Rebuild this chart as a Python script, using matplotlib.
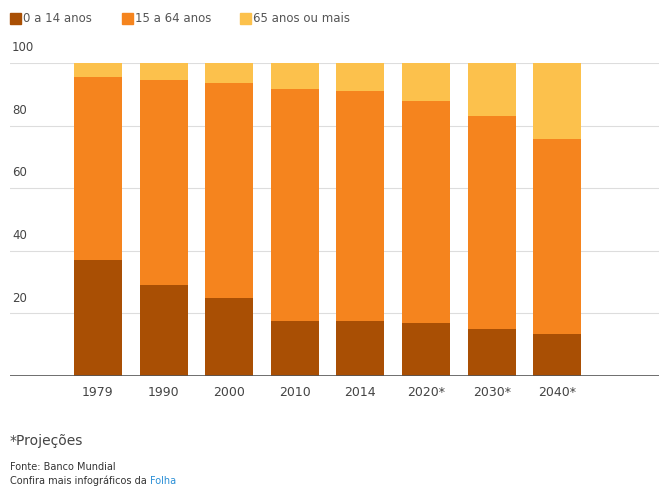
import numpy as np
import matplotlib.pyplot as plt

years = ["1979", "1990", "2000", "2010", "2014", "2020*", "2030*", "2040*"]
age_0_14 = [37, 29, 25, 17.5, 17.5, 17, 15, 13.5]
age_15_64 = [58.5, 65.6, 68.6, 74.2, 73.5, 70.9, 68, 62.2]
age_65 = [4.5, 5.4, 6.4, 8.3, 9, 12.1, 17, 24.3]

series_names = ["0 a 14 anos", "15 a 64 anos", "65 anos ou mais"]
colors = ["#a94f04", "#f5841e", "#fcc14c"]


def plot_data():
    fig = plt.figure(figsize=(6.59, 4.88), dpi=100)
    ax = fig.add_axes([10 / 659, 112 / 488, 649 / 659, 313 / 488])

    x = np.arange(len(years))
    bottom = np.zeros(len(years))
    for vals, c in zip([age_0_14, age_15_64, age_65], colors):
        ax.bar(x, vals, 0.73, bottom=bottom, color=c, zorder=2, clip_on=False)
        bottom += np.array(vals)

    ax.set_xlim(-1.34, 8.55)
    ax.set_ylim(0, 100)
    for t in [20, 40, 60, 80, 100]:
        ax.axhline(t, color="#dddddd", lw=0.8, zorder=1)
        ax.text(0.003, t + 2.8, str(t), transform=ax.get_yaxis_transform(),
                fontsize=8.5, color="#444444", va="bottom", ha="left")
    ax.axhline(0, color="#555555", lw=1.2, zorder=3)

    ax.set_yticks([])
    ax.set_xticks(x)
    ax.set_xticklabels(years, fontsize=9, color="#444444")
    ax.tick_params(axis="x", length=0, pad=7)
    for s in ax.spines.values():
        s.set_visible(False)

    # legend
    lx = [10, 122, 240]
    for px, name, c in zip(lx, series_names, colors):
        fig.patches.append(plt.Rectangle((px / 659, 1 - 24 / 488), 11 / 659, 11 / 488,
                                         transform=fig.transFigure, color=c))
        fig.text((px + 13) / 659, 1 - 19 / 488, name, fontsize=8.5, color="#555555", va="center")

    fig.text(10 / 659, 1 - 441 / 488, "*Projeções", fontsize=10, color="#444444", va="center")
    fig.text(10 / 659, 1 - 467 / 488, "Fonte: Banco Mundial", fontsize=7, color="#333333", va="center")
    t = fig.text(10 / 659, 1 - 481 / 488, "Confira mais infográficos da ", fontsize=7, color="#333333", va="center")
    fig.canvas.draw()
    bb = t.get_window_extent()
    fig.text(bb.x1 / 659, 1 - 481 / 488, "Folha", fontsize=7, color="#2a8fd6", va="center")

    fig.savefig("out.png", dpi=100)


def main():
    plot_data()


if __name__ == "__main__":
    main()
